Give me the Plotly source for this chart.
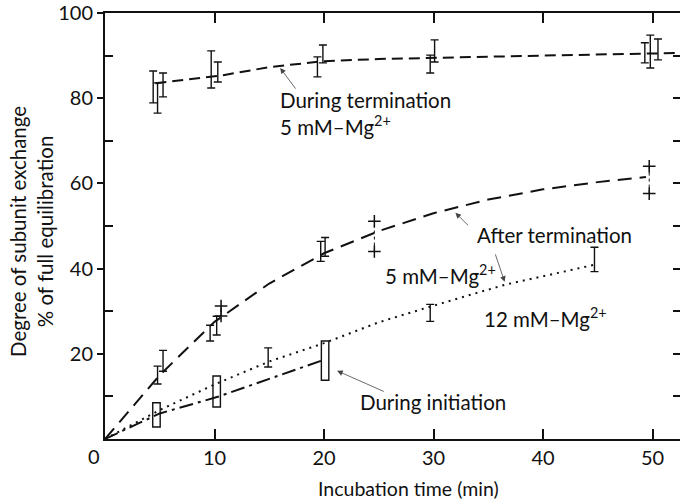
import plotly.graph_objects as go

# ---- data -------------------------------------------------------------
# During termination, 5 mM Mg2+ : fitted curve
term_t = [4.6, 8.4, 10.8, 15, 20, 25, 30, 40, 50, 52.5]
term_y = [83.5, 84.7, 85.4, 87.3, 88.7, 89.2, 89.5, 90.0, 90.5, 90.6]
# replicate error bars (time, low, high)
term_bar_t = [4.4, 4.8, 5.3, 9.7, 10.3, 19.4, 19.9, 29.7, 30.1, 49.3, 49.8, 50.5]
term_bar_lo = [78.9, 76.5, 80.3, 82.4, 83.8, 85.0, 88.3, 85.9, 88.5, 88.3, 87.1, 89.0]
term_bar_hi = [86.4, 83.6, 85.9, 91.1, 88.5, 89.7, 92.5, 90.1, 93.7, 93.0, 94.8, 93.9]

# After termination, 5 mM Mg2+ : fitted curve
after5_t = [0, 5, 10, 15, 20, 25, 30, 35, 40, 45, 49.4]
after5_y = [0, 15.0, 27.5, 36.5, 43.6, 48.8, 53.0, 56.2, 58.6, 60.3, 61.5]
after5_bar_t = [4.8, 5.3, 9.6, 10.2, 19.7, 20.1]
after5_bar_lo = [12.9, 15.9, 23.0, 24.4, 41.7, 42.9]
after5_bar_hi = [17.1, 20.8, 26.7, 28.8, 46.4, 47.3]
# duplicate determinations shown as crosses
after5_dup_t = [10.6, 24.6, 49.7]
after5_dup_lo = [28.9, 44.0, 57.6]
after5_dup_hi = [31.2, 51.1, 64.0]

# After termination, 12 mM Mg2+
after12_t = [0, 5, 10, 15, 20, 25, 30, 36.5, 44.7]
after12_y = [0, 6.8, 12.8, 18.2, 22.5, 27.4, 31.3, 36.2, 40.9]
after12_bar_t = [14.9, 29.7, 44.7]
after12_bar_lo = [16.9, 27.6, 39.3]
after12_bar_hi = [21.4, 31.6, 45.0]

# During initiation
init_t = [0, 5, 10.3, 20]
init_y = [0, 6.0, 9.9, 18.6]
init_box_t = [4.7, 10.2, 20.1]
init_box_lo = [2.8, 7.5, 13.8]
init_box_hi = [8.5, 14.8, 23.0]

x_ticks = [10, 20, 30, 40, 50]
y_ticks = [20, 40, 60, 80, 100]
y_minor = [10, 30, 50, 70, 90]
y_right = [10, 20, 30, 40, 50, 60, 70, 80, 90]

# ---- styling ----------------------------------------------------------
INK = "#111111"
FONT = "Lato"


def mid(lo, hi):
    return [(a + b) / 2 for a, b in zip(lo, hi)]


def half(lo, hi):
    return [(b - a) / 2 for a, b in zip(lo, hi)]


def err_trace(t, lo, hi):
    return go.Scatter(
        x=t, y=mid(lo, hi), mode="markers",
        marker=dict(size=1, color="rgba(0,0,0,0)"),
        error_y=dict(type="data", array=half(lo, hi), symmetric=True,
                     color=INK, thickness=1.4, width=4),
        showlegend=False, hoverinfo="skip",
    )


fig = go.Figure()

# curves
fig.add_trace(go.Scatter(x=term_t, y=term_y, mode="lines",
                         line=dict(color=INK, width=2, dash="11px,6px"),
                         showlegend=False))
fig.add_trace(go.Scatter(x=after5_t, y=after5_y, mode="lines",
                         line=dict(color=INK, width=2, dash="14px,8px"),
                         showlegend=False))
fig.add_trace(go.Scatter(x=after12_t, y=after12_y, mode="lines",
                         line=dict(color=INK, width=2, dash="2px,5px"),
                         showlegend=False))
fig.add_trace(go.Scatter(x=init_t, y=init_y, mode="lines",
                         line=dict(color=INK, width=2, dash="14px,5px,3px,5px"),
                         showlegend=False))

# error bars
fig.add_trace(err_trace(term_bar_t, term_bar_lo, term_bar_hi))
fig.add_trace(err_trace(after5_bar_t, after5_bar_lo, after5_bar_hi))
fig.add_trace(err_trace(after12_bar_t, after12_bar_lo, after12_bar_hi))

# duplicate values: crosses joined by a dotted stroke
dup_x, dup_y = [], []
for t, lo, hi in zip(after5_dup_t, after5_dup_lo, after5_dup_hi):
    dup_x += [t, t, None]
    dup_y += [lo, hi, None]
fig.add_trace(go.Scatter(x=dup_x, y=dup_y, mode="lines+markers",
                         line=dict(color=INK, width=1, dash="dot"),
                         marker=dict(symbol="cross-thin", size=9,
                                     line=dict(color=INK, width=1.5)),
                         showlegend=False))

# range boxes for the initiation series
fig.add_trace(go.Bar(x=init_box_t,
                     y=[h - l for l, h in zip(init_box_lo, init_box_hi)],
                     base=init_box_lo, width=0.68,
                     marker=dict(color="white", line=dict(color=INK, width=1.4)),
                     showlegend=False))

# right-hand tick axis (ticks only, no line)
fig.add_trace(go.Scatter(x=[0], y=[0], yaxis="y2", mode="markers",
                         marker=dict(size=1, color="rgba(0,0,0,0)"),
                         showlegend=False, hoverinfo="skip"))

# ---- labels ------------------------------------------------------------
lab = dict(font=dict(family=FONT, size=20.5, color=INK), showarrow=False,
           xref="x", yref="y", xanchor="left", align="left")
fig.add_annotation(x=15.8, y=82.8, yanchor="top",
                   text="During termination<br>5 mM–Mg<sup>2+</sup>", **lab)
fig.add_annotation(x=33.8, y=47.9, yanchor="middle",
                   text="After termination", **lab)
fig.add_annotation(x=25.4, y=38.6, yanchor="middle",
                   text="5 mM–Mg<sup>2+</sup>", **lab)
fig.add_annotation(x=34.4, y=28.6, yanchor="middle",
                   text="12 mM–Mg<sup>2+</sup>", **lab)
fig.add_annotation(x=23.1, y=8.7, yanchor="middle",
                   text="During initiation", **lab)

# pointer arrows (tip, tail)
arrows = [((16.0, 87.1), (17.5, 81.9)),
          ((32.0, 53.1), (33.3, 49.8)),
          ((36.5, 36.9), (35.6, 43.7)),
          ((21.2, 16.0), (25.6, 11.0))]
for (tx, ty), (ax, ay) in arrows:
    fig.add_annotation(x=tx, y=ty, ax=ax, ay=ay, xref="x", yref="y",
                       axref="x", ayref="y", text="", showarrow=True,
                       arrowhead=2, arrowsize=1.4, arrowwidth=0.8,
                       arrowcolor="#444444", standoff=0)

# shared origin label
fig.add_annotation(x=0, y=0, xref="x", yref="y", text="0", showarrow=False,
                   xshift=-11, yshift=-17,
                   font=dict(family=FONT, size=20, color=INK))

# ---- layout -----------------------------------------------------------
W, H = 680, 501
ML, MR, MT, MB = 105, 0, 13, 62
PW, PH = W - ML - MR, H - MT - MB


def px_x(p):
    return (p - ML) / PW


def px_y(p):
    return 1 - (p - MT) / PH


# axis titles, centred on pixel positions
fig.add_annotation(x=px_x(408), y=px_y(488), xref="paper", yref="paper",
                   xanchor="center", yanchor="middle",
                   text="Incubation time (min)", showarrow=False,
                   font=dict(family=FONT, size=19.5, color=INK))
fig.add_annotation(text="Degree of subunit exchange<br>% of full equilibration",
                   x=px_x(31), y=px_y(232), xref="paper", yref="paper",
                   xanchor="center", yanchor="middle", textangle=-90,
                   showarrow=False, align="center",
                   font=dict(family=FONT, size=20.5, color=INK))

fig.update_layout(
    width=W, height=H,
    margin=dict(l=ML, r=MR, t=MT, b=MB),
    plot_bgcolor="white", paper_bgcolor="white",
    font=dict(family=FONT, size=20, color=INK),
    barmode="overlay",
    xaxis=dict(range=[0, PW / 10.95], tickvals=x_ticks,
               ticks="inside", ticklen=10, tickwidth=1.5, tickcolor=INK,
               showline=True, linecolor=INK, linewidth=2, mirror="ticks",
               showgrid=False, zeroline=False,
               tickfont=dict(family=FONT, size=20, color=INK)),
    yaxis=dict(range=[0, 100], tickvals=y_ticks,
               ticks="outside", ticklen=6, tickwidth=1.5, tickcolor=INK,
               minor=dict(tickvals=y_minor, ticks="inside", ticklen=8,
                          tickwidth=1.5, tickcolor=INK, showgrid=False),
               showline=True, linecolor=INK, linewidth=2,
               showgrid=False, zeroline=False,
               tickfont=dict(family=FONT, size=20, color=INK)),
    yaxis2=dict(range=[0, 100], overlaying="y", side="right", anchor="x",
                tickvals=y_right, ticks="inside", ticklen=7, tickwidth=1.5,
                tickcolor=INK, showticklabels=False, showline=False,
                showgrid=False, zeroline=False),
)

fig.write_html("out.html")
